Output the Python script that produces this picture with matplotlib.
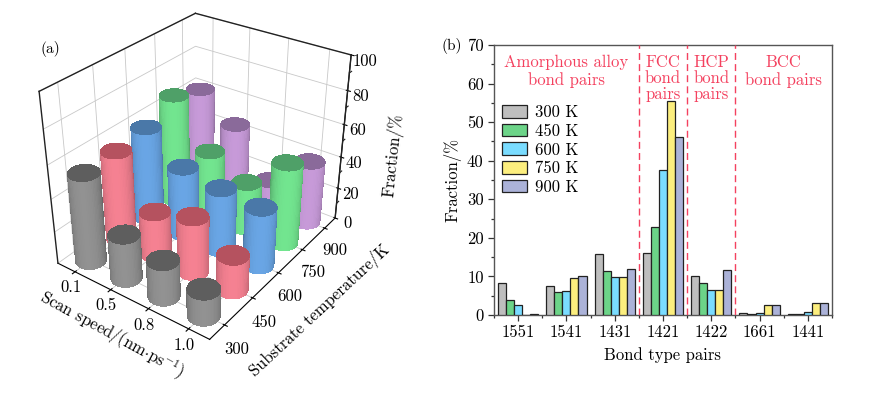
import numpy as np
import matplotlib
matplotlib.use('Agg')
import matplotlib.pyplot as plt
from matplotlib.colors import to_rgb
from matplotlib.patches import Patch

plt.rcParams['font.family'] = ['cmr10', 'DejaVu Serif']
plt.rcParams['mathtext.fontset'] = 'cm'
plt.rcParams['axes.formatter.use_mathtext'] = True
plt.rcParams['axes.unicode_minus'] = False

# (a) cylinders
speeds = ['0.1', '0.5', '0.8', '1.0']
temps = ['300', '450', '600', '750', '900']
frac_300 = [54, 27, 22, 16]
frac_450 = [55, 27, 34, 21]
frac_600 = [58, 42, 38, 36]
frac_750 = [67, 40, 29, 50]
frac_900 = [61, 46, 18, 39]
fractions = [frac_300, frac_450, frac_600, frac_750, frac_900]
side_colors = ['#8c8c8c', '#ec7c8c', '#659fdc', '#6edc8a', '#bf94d0']
top_colors = ['#5e5e5e', '#b5525f', '#4a78a8', '#4fa068', '#8a6a9a']

# (b) bars
bond_types = ['1551', '1541', '1431', '1421', '1422', '1661', '1441']
bond_300 = [8.4, 7.6, 15.7, 16.0, 10.2, 0.4, 0.2]
bond_450 = [4.0, 6.0, 11.5, 22.7, 8.4, 0.3, 0.3]
bond_600 = [2.5, 6.1, 9.8, 37.7, 6.6, 0.6, 0.8]
bond_750 = [0.0, 9.7, 9.8, 55.6, 6.6, 2.5, 3.0]
bond_900 = [0.2, 10.2, 12.0, 46.2, 11.6, 2.5, 3.2]
bonds = [bond_300, bond_450, bond_600, bond_750, bond_900]
bar_colors = ['#bebebe', '#6cd488', '#7adcff', '#fcee7e', '#abb2d8']
bar_labels = ['300 K', '450 K', '600 K', '750 K', '900 K']
red = '#f4415f'

fig = plt.figure(figsize=(8.74, 3.94), dpi=100)

# left panel
ax = fig.add_axes([-0.056, 0.006, 0.56, 1.14], projection='3d', computed_zorder=False)
azim = -54
ax.view_init(elev=31, azim=azim)
ax.set_proj_type('persp', focal_length=0.35)
ax.set_box_aspect((4, 5, 4.1), zoom=0.78)
ax.set_xlim(-0.5, 3.5)
ax.set_ylim(-0.5, 4.5)
ax.set_zlim(0, 100)
ax.set_xticks(range(4))
ax.set_xticklabels(speeds, fontsize=12)
ax.set_yticks(range(5))
ax.set_yticklabels(temps, fontsize=12)
ax.set_zticks(range(0, 101, 20))
ax.set_zticklabels([str(v) for v in range(0, 101, 20)], fontsize=12)
ax.zaxis.set_ticks_position('upper')
for a in (ax.xaxis, ax.yaxis, ax.zaxis):
    a.set_pane_color((1, 1, 1, 1))
    a._axinfo['grid']['color'] = '#c8c8c8'
    a._axinfo['grid']['linewidth'] = 0.6
    a._axinfo['axisline']['color'] = '#222222'
    a._axinfo['tick']['color'] = '#222222'
ax.xaxis.set_tick_params(pad=-3)
ax.yaxis.set_tick_params(pad=4)
ax.zaxis.set_tick_params(pad=0)

r = 0.33
th = np.linspace(0, 2 * np.pi, 61)
view = np.radians(azim)
order = sorted(((i, j) for i in range(4) for j in range(5)),
               key=lambda p: p[0] * np.cos(view) + p[1] * np.sin(view))
for n, (i, j) in enumerate(order):
    h = fractions[j][i]
    X = i + r * np.cos(th)[None, :] * np.ones((2, 1))
    Y = j + r * np.sin(th)[None, :] * np.ones((2, 1))
    Z = np.array([[0.0], [h]]) * np.ones((2, th.size))
    mid = (th[:-1] + th[1:]) / 2
    shade = 0.72 + 0.32 * np.clip(np.cos(mid - view), 0, 1) ** 0.8
    base = np.array(to_rgb(side_colors[j]))
    fc = np.clip(shade[None, :, None] * base[None, None, :], 0, 1)
    ax.plot_surface(X, Y, Z, facecolors=fc, shade=False, linewidth=0,
                    antialiased=False, zorder=10 + 2 * n, rcount=2, ccount=61)
    XT = i + np.outer(np.array([0, r]), np.cos(th))
    YT = j + np.outer(np.array([0, r]), np.sin(th))
    ZT = np.full_like(XT, h)
    ax.plot_surface(XT, YT, ZT, color=top_colors[j], shade=False, linewidth=0,
                    antialiased=False, zorder=11 + 2 * n, rcount=2, ccount=61)

# box outline
k = dict(color='#222222', lw=1.0, zorder=2)
ax.plot([-0.5, -0.5], [-0.5, -0.5], [0, 100], **k)
ax.plot([3.5, 3.5], [4.5, 4.5], [0, 100], **k)
ax.plot([-0.5, -0.5], [-0.5, 4.5], [100, 100], **k)
ax.plot([-0.5, 3.5], [4.5, 4.5], [100, 100], **k)
for z in range(10, 100, 20):
    ax.plot([3.5, 3.5], [4.5, 4.6], [z, z], color='#222222', lw=0.8, zorder=2)

fig.text(50 / 874, 1 - 49 / 394, '(a)', fontsize=11, ha='center', va='center')
fig.text(112 / 874, 1 - 335 / 394, r'Scan speed/(nm$\cdot$ps$^{-1}$)', fontsize=12,
         rotation=-28.5, ha='center', va='center', rotation_mode='anchor')
fig.text(319 / 874, 1 - 310 / 394, 'Substrate temperature/K', fontsize=12,
         rotation=43, ha='center', va='center', rotation_mode='anchor')
fig.text(393 / 874, 1 - 155 / 394, 'Fraction/%', fontsize=12, rotation=84,
         ha='center', va='center', rotation_mode='anchor')

# right panel
bx = fig.add_axes([494 / 874, 1 - 315 / 394, 338 / 874, 270 / 394])
w = 1 / 6
pos = np.arange(1, 8)
for n, vals in enumerate(bonds):
    bx.bar(pos + (n - 2) * w, vals, w, color=bar_colors[n], edgecolor='#222222',
           linewidth=0.9, label=bar_labels[n], zorder=3)
bx.set_xlim(0.5, 7.5)
bx.set_ylim(0, 70)
bx.set_xticks(pos)
bx.set_xticklabels(bond_types, fontsize=12)
bx.set_xticks(np.arange(0.5, 8), minor=True)
bx.set_yticks(range(0, 71, 10))
bx.set_yticklabels([str(v) for v in range(0, 71, 10)], fontsize=12)
bx.set_yticks(range(5, 70, 10), minor=True)
bx.tick_params(length=4, width=0.9, color='#333333')
bx.tick_params(which='minor', length=2, width=0.9, color='#333333')
bx.tick_params(axis='x', pad=3)
for s in bx.spines.values():
    s.set_color('#555555')
    s.set_linewidth(1.0)
bx.set_xlabel('Bond type pairs', fontsize=12, labelpad=5)
bx.set_ylabel('Fraction/%', fontsize=12, labelpad=4)
for x in (3.5, 4.5, 5.5):
    bx.axvline(x, color=red, lw=1.0, ls=(0, (5, 3)), zorder=4)
bx.text(2.0, 67.5, 'Amorphous alloy\nbond pairs', color=red, fontsize=12, ha='center',
        va='top', linespacing=1.2)
bx.text(4.0, 67.5, 'FCC\nbond\npairs', color=red, fontsize=12, ha='center', va='top',
        linespacing=1.05)
bx.text(5.0, 67.5, 'HCP\nbond\npairs', color=red, fontsize=12, ha='center', va='top',
        linespacing=1.05)
bx.text(6.5, 67.5, 'BCC\nbond pairs', color=red, fontsize=12, ha='center', va='top',
        linespacing=1.2)
handles = [Patch(facecolor=bar_colors[n], edgecolor='#222222', linewidth=0.9,
                 label=bar_labels[n]) for n in range(5)]
bx.legend(handles=handles, loc='upper left', bbox_to_anchor=(-0.006, 0.815), frameon=False,
          fontsize=12, handlelength=1.5, handleheight=0.8, labelspacing=0.2,
          handletextpad=0.5, borderaxespad=0.4, borderpad=0.2)
fig.text(452 / 874, 1 - 46 / 394, '(b)', fontsize=11, ha='center', va='center')

fig.savefig('out.png', dpi=100)
